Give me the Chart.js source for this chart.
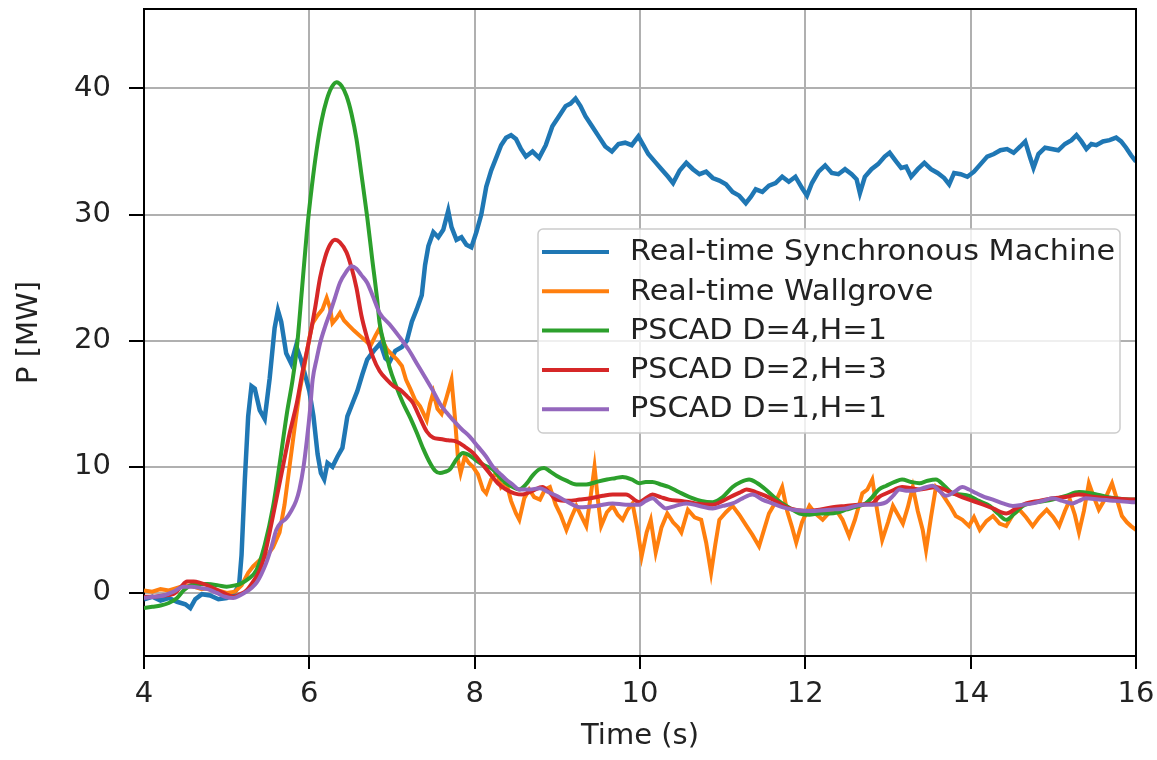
<!DOCTYPE html>
<html>
<head>
<meta charset="utf-8">
<script src="https://cdn.jsdelivr.net/npm/chart.js@4.4.1/dist/chart.umd.min.js"></script>
<style>
  body { margin: 0; background: #fff; }
  #wrap { width: 1157px; height: 760px; }
</style>
</head>
<body>
<div id="wrap"><canvas id="pChart"></canvas></div>
<script>
// tick positions
const xTicks = [4, 6, 8, 10, 12, 14, 16];
const yTicks = [0, 10, 20, 30, 40];

// Real-time Synchronous Machine
const syncT = [4.00,4.10,4.20,4.30,4.40,4.50,4.56,4.62,4.70,4.80,4.90,5.00,5.08,5.15,5.18,5.22,5.26,5.30,5.34,5.40,5.46,5.52,5.58,5.62,5.66,5.72,5.78,5.84,5.90,5.96,6.00,6.05,6.10,6.14,6.18,6.22,6.28,6.34,6.40,6.46,6.52,6.58,6.64,6.70,6.78,6.86,6.92,6.97,7.04,7.12,7.18,7.24,7.30,7.36,7.40,7.44,7.50,7.56,7.62,7.68,7.72,7.78,7.84,7.90,7.96,8.02,8.08,8.14,8.20,8.26,8.32,8.38,8.44,8.50,8.56,8.62,8.70,8.78,8.86,8.94,9.02,9.10,9.16,9.22,9.28,9.34,9.42,9.50,9.58,9.66,9.74,9.82,9.90,9.98,10.04,10.10,10.18,10.26,10.34,10.40,10.48,10.56,10.64,10.72,10.80,10.88,10.96,11.04,11.12,11.20,11.28,11.34,11.40,11.48,11.56,11.64,11.72,11.80,11.88,11.96,12.02,12.08,12.16,12.24,12.32,12.40,12.48,12.56,12.62,12.66,12.72,12.80,12.88,12.96,13.02,13.10,13.16,13.22,13.28,13.36,13.44,13.52,13.60,13.68,13.74,13.80,13.88,13.96,14.04,14.12,14.20,14.28,14.36,14.44,14.52,14.60,14.66,14.72,14.76,14.82,14.90,14.98,15.06,15.14,15.22,15.28,15.34,15.40,15.46,15.52,15.60,15.68,15.76,15.82,15.88,15.94,16.00];
const syncP = [-0.5,-0.3,-0.6,-0.4,-0.7,-0.9,-1.2,-0.5,-0.1,-0.2,-0.5,-0.4,-0.1,0.6,3,9,14,16.4,16.2,14.5,13.8,17,21,22.4,21.5,19,18.2,19.6,18.5,17,16,14,11,9.5,9,10.3,10,10.8,11.5,14,15,16,17.3,18.5,19.2,19.8,18.6,18.3,19.2,19.5,20,21.5,22.5,23.6,26,27.5,28.6,28.2,28.8,30.3,29,28,28.2,27.6,27.4,28.6,30,32.2,33.5,34.5,35.5,36.1,36.3,36,35.2,34.6,35,34.5,35.5,37,37.8,38.6,38.8,39.2,38.6,37.8,37,36.2,35.4,35,35.6,35.7,35.5,36.2,35.5,34.8,34.2,33.6,33,32.5,33.5,34.1,33.6,33.2,33.4,32.9,32.7,32.4,31.8,31.5,30.9,31.4,32,31.8,32.3,32.5,33,32.6,33,32.1,31.5,32.5,33.4,33.9,33.3,33.2,33.6,33.2,32.8,31.7,33,33.6,34,34.6,34.9,34.2,33.7,33.8,33,33.6,34.1,33.6,33.3,32.9,32.4,33.3,33.2,33,33.4,34,34.6,34.8,35.1,35.2,34.9,35.4,35.8,34.5,33.7,34.8,35.3,35.2,35.1,35.6,35.9,36.3,35.8,35.2,35.6,35.5,35.8,35.9,36.1,35.8,35.3,34.7,34.2];

// Real-time Wallgrove
const wallT = [4.00,4.10,4.20,4.30,4.40,4.50,4.60,4.70,4.80,4.90,5.00,5.10,5.18,5.26,5.32,5.40,5.48,5.56,5.64,5.70,5.76,5.82,5.88,5.94,6.00,6.04,6.10,6.16,6.21,6.25,6.28,6.33,6.37,6.42,6.48,6.54,6.61,6.68,6.74,6.80,6.85,6.90,6.94,7.00,7.06,7.12,7.17,7.22,7.28,7.34,7.42,7.46,7.50,7.55,7.60,7.66,7.72,7.76,7.80,7.83,7.88,7.93,7.98,8.04,8.10,8.14,8.20,8.27,8.32,8.38,8.44,8.50,8.54,8.60,8.66,8.72,8.79,8.85,8.91,8.98,9.04,9.11,9.17,9.23,9.29,9.35,9.40,9.45,9.49,9.53,9.60,9.67,9.73,9.79,9.85,9.91,9.97,10.02,10.08,10.13,10.19,10.26,10.33,10.40,10.46,10.50,10.58,10.66,10.74,10.80,10.86,10.91,10.96,11.04,11.12,11.20,11.29,11.36,11.44,11.50,11.56,11.64,11.72,11.78,11.84,11.89,11.96,12.05,12.12,12.21,12.28,12.37,12.45,12.53,12.60,12.69,12.75,12.81,12.87,12.93,13.00,13.06,13.12,13.18,13.24,13.30,13.36,13.42,13.46,13.52,13.58,13.64,13.70,13.76,13.82,13.90,13.98,14.04,14.11,14.19,14.27,14.35,14.43,14.51,14.59,14.67,14.75,14.83,14.92,15.00,15.07,15.14,15.20,15.26,15.31,15.37,15.43,15.49,15.55,15.63,15.71,15.77,15.83,15.89,15.94,16.00];
const wallP = [0.2,0.1,0.3,0.2,0.4,0.6,0.5,0.3,0.4,0.2,0.0,0.1,0.6,1.6,2.1,2.6,2.9,3.6,4.8,7,10,13,15.9,18,20.2,21.4,22,22.5,23.4,22.6,21.4,21.8,22.2,21.6,21.2,20.8,20.4,20,19.6,20.4,21,19.8,19.3,18.9,18.5,18,16.9,16.2,15.3,14.8,13.7,15,15.9,14.6,14.2,15.5,16.9,14,10.5,9.5,10.8,10.3,10.0,9.4,8.2,7.9,9,9.6,8.4,8.8,7.3,6.3,5.8,7.5,8.2,7.6,7.4,8.2,8.4,7.0,6.2,5.0,6.0,6.9,6.1,5.3,7.5,10.0,7.4,5.3,6.4,6.9,6.2,5.8,6.6,7.1,5.0,2.9,4.8,5.8,3.2,5.2,6.3,5.6,5.2,4.8,6.6,6.0,5.8,4.0,1.6,3.8,5.8,6.4,6.9,6.2,5.3,4.6,3.7,5.0,6.3,7.2,8.4,6.5,5.2,4.0,5.6,6.9,6.3,5.8,6.3,6.6,5.8,4.5,5.8,7.9,8.2,9.0,6.5,4.2,5.6,6.9,6.2,5.5,6.8,8.4,6.5,5.0,3.4,6.0,8.4,8.0,7.4,6.8,6.1,5.8,5.3,6.0,5.0,5.7,6.1,5.5,5.3,6.2,6.6,6.0,5.3,6.0,6.6,6.0,5.3,6.5,7.4,6.2,4.8,6.5,8.7,7.6,6.6,7.5,8.7,7.4,6.1,5.6,5.3,5.0];

// PSCAD D=4,H=1
const d4T = [4.00,4.10,4.20,4.30,4.40,4.48,4.56,4.66,4.77,4.90,5.00,5.10,5.16,5.26,5.36,5.46,5.56,5.64,5.73,5.80,5.85,5.91,5.97,6.03,6.09,6.15,6.21,6.27,6.33,6.39,6.45,6.51,6.57,6.63,6.70,6.76,6.82,6.85,6.91,6.97,7.05,7.13,7.22,7.30,7.38,7.46,7.52,7.58,7.64,7.70,7.78,7.86,7.94,8.02,8.12,8.22,8.30,8.38,8.46,8.54,8.62,8.70,8.78,8.84,8.92,8.99,9.11,9.23,9.35,9.47,9.60,9.70,9.79,9.90,9.99,10.07,10.15,10.25,10.35,10.47,10.60,10.74,10.88,11.00,11.12,11.22,11.32,11.42,11.52,11.62,11.72,11.82,11.93,12.05,12.17,12.29,12.40,12.49,12.60,12.73,12.81,12.89,12.98,13.08,13.17,13.28,13.38,13.48,13.58,13.68,13.78,13.88,13.98,14.10,14.23,14.33,14.43,14.53,14.63,14.80,14.99,15.15,15.31,15.45,15.59,15.75,15.95,16.00];
const d4P = [-1.2,-1.1,-1.0,-0.8,-0.4,0.2,0.6,0.7,0.7,0.6,0.5,0.6,0.7,1.1,1.8,3.8,6.8,10.2,14.3,17,19.5,24,28.6,32.2,35.2,37.5,39.1,40.1,40.5,40.2,39.4,38,36.0,33.2,29.8,26.5,23.3,21.4,19.6,17.9,16.4,15.1,13.9,12.7,11.4,10.3,9.7,9.5,9.6,9.8,10.6,11.1,10.9,10.5,10.1,9.8,9.2,8.7,8.4,8.2,8.6,9.3,9.8,9.9,9.6,9.3,8.9,8.6,8.6,8.8,9.0,9.1,9.2,9.0,8.7,8.8,8.8,8.6,8.4,8.0,7.6,7.3,7.2,7.6,8.4,8.8,9.0,8.7,8.2,7.6,7.1,6.7,6.3,6.2,6.3,6.3,6.4,6.6,6.8,7.1,7.6,8.2,8.5,8.8,9.0,8.8,8.7,8.9,9.0,8.5,7.9,7.8,7.7,7.3,6.9,6.3,5.8,6.3,6.9,7.2,7.4,7.7,8.0,7.9,7.7,7.5,7.4,7.4];

// PSCAD D=2,H=3
const d2T = [4.00,4.12,4.24,4.35,4.45,4.52,4.60,4.68,4.77,4.86,4.96,5.08,5.16,5.24,5.32,5.40,5.46,5.52,5.60,5.68,5.76,5.85,5.92,6.00,6.07,6.13,6.19,6.25,6.31,6.37,6.45,6.51,6.57,6.63,6.70,6.77,6.85,6.94,7.02,7.10,7.18,7.25,7.33,7.42,7.50,7.58,7.68,7.78,7.88,7.98,8.08,8.18,8.28,8.38,8.48,8.58,8.70,8.82,8.90,8.99,9.13,9.27,9.40,9.55,9.67,9.83,9.99,10.07,10.15,10.25,10.35,10.50,10.67,10.88,11.00,11.12,11.22,11.29,11.40,11.52,11.66,11.81,12.01,12.17,12.33,12.49,12.65,12.81,12.89,12.98,13.08,13.17,13.28,13.38,13.48,13.58,13.72,13.86,13.98,14.11,14.27,14.43,14.55,14.67,14.83,14.99,15.15,15.31,15.50,15.70,15.95,16.00];
const d2P = [-0.3,-0.3,-0.2,-0.1,0.5,0.9,0.9,0.8,0.6,0.3,0.0,-0.3,-0.1,0.2,0.9,1.8,3.0,4.8,7.4,10.0,12.6,15.1,17.6,20.1,22.6,25.0,26.6,27.6,28.0,27.8,27.0,25.8,24.2,22,20.2,18.7,17.6,16.9,16.4,16.1,15.6,15.1,14.0,12.8,12.3,12.2,12.1,12.0,11.6,11.1,10.3,9.5,8.7,8.2,7.9,7.8,8.1,8.4,8.0,7.4,7.3,7.4,7.5,7.7,7.8,7.8,7.2,7.5,7.8,7.6,7.4,7.3,7.1,7.0,7.3,7.7,8.0,8.2,8.0,7.7,7.2,6.7,6.5,6.6,6.8,6.9,7.0,7.1,7.6,7.9,8.2,8.4,8.3,8.2,8.3,8.4,8.1,7.7,7.4,7.1,6.7,6.3,6.7,7.1,7.3,7.5,7.6,7.8,7.6,7.5,7.4,7.4];

// PSCAD D=1,H=1
const d1T = [4.00,4.12,4.24,4.36,4.48,4.58,4.68,4.77,4.88,4.98,5.08,5.16,5.24,5.30,5.36,5.42,5.48,5.54,5.60,5.66,5.72,5.78,5.84,5.88,5.93,5.97,6.01,6.04,6.09,6.13,6.19,6.25,6.31,6.37,6.44,6.51,6.57,6.63,6.70,6.77,6.85,6.97,7.09,7.20,7.30,7.40,7.49,7.58,7.66,7.74,7.84,7.94,8.04,8.14,8.22,8.30,8.38,8.46,8.54,8.66,8.79,8.89,8.99,9.13,9.27,9.47,9.67,9.83,9.99,10.07,10.15,10.23,10.31,10.43,10.56,10.72,10.88,11.00,11.12,11.24,11.36,11.48,11.60,11.72,11.85,12.09,12.29,12.49,12.69,12.81,12.98,13.06,13.14,13.22,13.30,13.42,13.54,13.62,13.70,13.80,13.90,13.98,14.07,14.17,14.27,14.39,14.51,14.63,14.75,14.87,14.99,15.11,15.23,15.31,15.39,15.55,15.75,15.95,16.00];
const d1P = [-0.4,-0.3,-0.2,0.1,0.5,0.5,0.4,0.3,0.0,-0.3,-0.4,-0.2,0.1,0.4,0.8,1.5,2.4,3.6,5.0,5.6,5.9,6.5,7.3,8.2,10.0,12.1,14.6,16.9,18.6,19.8,21.1,22.2,23.4,24.6,25.4,25.9,25.7,25.2,24.6,23.5,22.2,21.3,20.3,19.3,18.2,17.1,16.1,15.0,14.3,13.7,13.0,12.4,11.6,10.8,10.0,9.5,9.0,8.6,8.2,8.2,8.3,8.0,7.7,7.2,6.8,6.9,7.1,7.0,7.0,7.3,7.5,7.1,6.7,6.9,7.1,6.9,6.7,6.9,7.1,7.5,7.8,7.4,7.1,6.8,6.6,6.5,6.6,6.7,7.0,7.0,7.2,7.7,8.2,8.1,8.1,8.3,8.5,8.1,7.7,8.0,8.4,8.2,7.9,7.6,7.4,7.1,6.9,7.0,7.1,7.3,7.5,7.3,7.1,7.3,7.5,7.4,7.3,7.2,7.2];

const seriesLabels = ["Real-time Synchronous Machine", "Real-time Wallgrove", "PSCAD D=4,H=1", "PSCAD D=2,H=3", "PSCAD D=1,H=1"];
const seriesColors = ["#1f77b4", "#ff7f0e", "#2ca02c", "#d62728", "#9467bd"];

const pts = (t, p) => t.map((x, i) => ({x: x, y: p[i]}));
const allSeries = [[syncT, syncP], [wallT, wallP], [d4T, d4P], [d2T, d2P], [d1T, d1P]];

const datasets = allSeries.map((s, i) => ({
    label: seriesLabels[i],
    data: pts(s[0], s[1]),
    borderColor: seriesColors[i],
    borderWidth: i == 0 ? 4.5 : 4,
    pointRadius: 0,
    fill: false,
    tension: 0,
    cubicInterpolationMode: i >= 2 ? "monotone" : "default",
    order: 5 - i
}));

const FONT = "'DejaVu Sans', sans-serif";

// box around the axes (top + right spines) and the legend inside the plot
const extras = {
    id: "extras",
    afterDraw(chart) {
        const ctx = chart.ctx, a = chart.chartArea;
        ctx.save();
        ctx.strokeStyle = "#000";
        ctx.lineWidth = 2;
        ctx.beginPath();
        ctx.moveTo(a.left, a.top);
        ctx.lineTo(a.right, a.top);
        ctx.lineTo(a.right, a.bottom);
        ctx.stroke();

        const lx = a.left + 394, ly = a.top + 220, lw = 582, lh = 204;
        ctx.beginPath();
        ctx.roundRect(lx, ly, lw, lh, 5);
        ctx.fillStyle = "rgba(255,255,255,0.8)";
        ctx.fill();
        ctx.strokeStyle = "#cccccc";
        ctx.lineWidth = 1.5;
        ctx.stroke();

        ctx.font = "28px " + FONT;
        ctx.textBaseline = "middle";
        ctx.fillStyle = "#222";
        chart.data.datasets.forEach((ds, i) => {
            const y = ly + 23 + i * 39.3;
            ctx.beginPath();
            ctx.moveTo(lx + 4, y);
            ctx.lineTo(lx + 71, y);
            ctx.strokeStyle = ds.borderColor;
            ctx.lineWidth = 4;
            ctx.stroke();
            ctx.save();
            ctx.translate(lx + 92, y + 1);
            ctx.scale(1.08, 1);
            ctx.fillText(ds.label, 0, 0);
            ctx.restore();
        });
        ctx.restore();
    }
};

new Chart(document.getElementById("pChart"), {
    type: "line",
    data: { datasets: datasets },
    options: {
        responsive: true,
        maintainAspectRatio: false,
        animation: false,
        layout: { padding: { left: 0, right: 21, top: 9, bottom: 0 } },
        plugins: { legend: { display: false }, tooltip: { enabled: false } },
        scales: {
            x: {
                type: "linear",
                min: 4,
                max: 16,
                afterBuildTicks: s => { s.ticks = xTicks.map(v => ({value: v})); },
                afterFit: s => { s.height = 104; s.paddingLeft = 0; s.paddingRight = 0; },
                grid: { color: "#b0b0b0", lineWidth: 2, tickColor: "#000", tickWidth: 2, tickLength: 13 },
                border: { color: "#000", width: 2 },
                ticks: { font: { family: FONT, size: 29 }, color: "#222", padding: 8, maxRotation: 0 },
                title: { display: true, text: "Time (s)", font: { family: FONT, size: 29 }, color: "#222", padding: { top: 0, bottom: 6 } }
            },
            y: {
                min: -5,
                max: 46.3,
                afterBuildTicks: s => { s.ticks = yTicks.map(v => ({value: v})); },
                afterFit: s => { s.width = 144; s.paddingTop = 0; s.paddingBottom = 0; },
                grid: { color: "#b0b0b0", lineWidth: 2, tickColor: "#000", tickWidth: 2, tickLength: 15 },
                border: { color: "#000", width: 2 },
                ticks: { font: { family: FONT, size: 29 }, color: "#222", padding: 18 },
                title: { display: true, text: "P [MW]", font: { family: FONT, size: 29 }, color: "#222", padding: { top: 12, bottom: 0 } }
            }
        }
    },
    plugins: [extras]
});
</script>
</body>
</html>
